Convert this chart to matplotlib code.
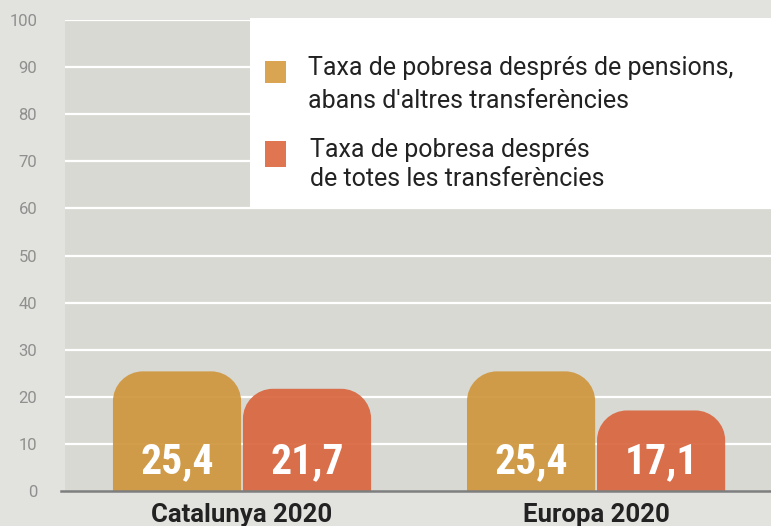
import matplotlib
matplotlib.use("Agg")
import matplotlib.pyplot as plt
from matplotlib.path import Path
from matplotlib.patches import PathPatch, Rectangle
from matplotlib import font_manager as fm

# ---- data ----
categories = ["Catalunya 2020", "Europa 2020"]
series_names = ["Taxa de pobresa després de pensions,\nabans d'altres transferències",
                "Taxa de pobresa després\nde totes les transferències"]
after_pensions = [25.4, 25.4]
after_all = [21.7, 17.1]
value_labels_a = ["25,4", "25,4"]
value_labels_b = ["21,7", "17,1"]
yticks = [0, 10, 20, 30, 40, 50, 60, 70, 80, 90, 100]

# ---- fonts ----
def find_font(patterns):
    for pat in patterns:
        for f in fm.fontManager.ttflist:
            if pat.lower() in f.fname.lower().replace(" ", ""):
                return f.fname
    return None

cond = find_font(["RobotoCondensed-Bold", "OpenSans_Condensed-Bold", "OpenSansCondensed-Bold",
                  "DejaVuSansCondensed-Bold"])
if cond:
    value_fp = fm.FontProperties(fname=cond, size=30)
else:
    value_fp = fm.FontProperties(family="Roboto", weight="bold", size=27)

W, H = 771, 526
fig = plt.figure(figsize=(W / 100, H / 100), dpi=100, facecolor="#e2e2de")

def fx(x):
    return x / W

def fy(y):
    return 1 - y / H

ax = fig.add_axes([fx(65), fy(491), (771 - 65) / W, (491 - 20) / H])
ax.set_facecolor("#d9d9d4")
ax.set_ylim(0, 100)
ax.set_xlim(-0.5, 1.494)
for s in ax.spines.values():
    s.set_visible(False)

for t in yticks[1:]:
    ax.axhline(t, color="white", lw=1.6, zorder=1)
ax.axhline(0, xmin=-0.005, xmax=1, color="#7d7f7f", lw=1.8, zorder=4, clip_on=False)

ax.set_yticks(yticks)
ax.set_yticklabels([str(t) for t in yticks], color="#8f8f8f", fontsize=12, family="Roboto")
ax.tick_params(axis="y", length=0, pad=20)
ax.set_xticks(range(len(categories)))
ax.set_xticklabels(categories, fontsize=18.5, fontweight="bold", family="Roboto", color="#222222")
ax.tick_params(axis="x", length=0, pad=8.5)

# rounded bars
fig.canvas.draw()
p0 = ax.transData.transform((0, 0))
p1 = ax.transData.transform((1, 1))
px_x = p1[0] - p0[0]
px_y = p1[1] - p0[1]
r_px = 30
rx = r_px / px_x
ry = r_px / px_y
k = 0.5523

def rounded_bar(xc, width, h, color):
    x0, x1 = xc - width / 2, xc + width / 2
    verts = [(x0, 0), (x0, h - ry),
             (x0, h - ry + k * ry), (x0 + rx - k * rx, h), (x0 + rx, h),
             (x1 - rx, h),
             (x1 - rx + k * rx, h), (x1, h - ry + k * ry), (x1, h - ry),
             (x1, 0), (x0, 0)]
    codes = [Path.MOVETO, Path.LINETO,
             Path.CURVE4, Path.CURVE4, Path.CURVE4,
             Path.LINETO,
             Path.CURVE4, Path.CURVE4, Path.CURVE4,
             Path.LINETO, Path.CLOSEPOLY]
    ax.add_patch(PathPatch(Path(verts, codes), facecolor=color, edgecolor="none",
                           alpha=0.92, zorder=3))

bw = 0.362
off = 0.1836
col_a, col_b = "#cf963d", "#d8663e"
for i in range(len(categories)):
    rounded_bar(i - off, bw, after_pensions[i], col_a)
    rounded_bar(i + off, bw, after_all[i], col_b)
    ax.text(i - off, 3.8, value_labels_a[i], ha="center", va="baseline", color="white",
            fontproperties=value_fp, zorder=5)
    ax.text(i + off, 3.8, value_labels_b[i], ha="center", va="baseline", color="white",
            fontproperties=value_fp, zorder=5)

# legend box
fig.patches.append(Rectangle((fx(250), fy(207)), (771 - 250) / W, (207 - 18) / H,
                             transform=fig.transFigure, facecolor="white", edgecolor="none",
                             zorder=5))
fig.patches.append(Rectangle((fx(265), fy(83)), 21 / W, 22 / H, transform=fig.transFigure,
                             facecolor="#d9a552", edgecolor="none", zorder=6))
fig.patches.append(Rectangle((fx(265), fy(167)), 21 / W, 26 / H, transform=fig.transFigure,
                             facecolor="#e07552", edgecolor="none", zorder=6))
lines_a = series_names[0].split("\n")
lines_b = series_names[1].split("\n")
for txt, x, y in [(lines_a[0], 308, 75), (lines_a[1], 308, 108),
                  (lines_b[0], 310, 157), (lines_b[1], 310, 186)]:
    fig.text(fx(x), fy(y), txt, ha="left", va="baseline", fontsize=18, family="Roboto",
             color="#222222", zorder=7)

fig.savefig("out.png", dpi=100, facecolor=fig.get_facecolor())
